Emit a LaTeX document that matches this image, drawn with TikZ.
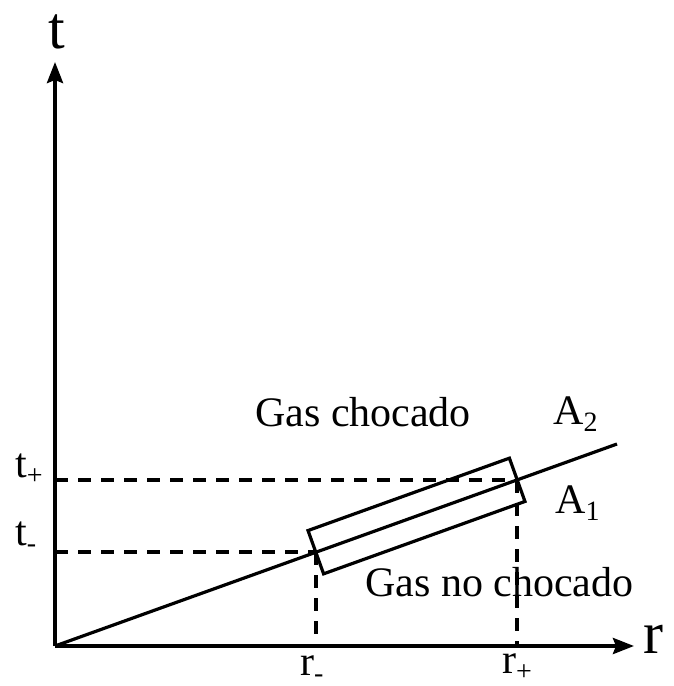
\documentclass[tikz,border=0pt]{standalone}
\usepackage{fontspec}
\setmainfont{Liberation Serif}
\usetikzlibrary{arrows.meta,calc}
\newcommand\lsub[1]{\raisebox{-7.5pt}{\fontsize{28}{28}\selectfont #1}}
\tikzset{
  axisline/.style={line width=3.8pt, -{Stealth[length=21pt,width=16pt,inset=3pt]}},
  mainline/.style={line width=3.2pt},
  guide/.style={line width=3.2pt, dash pattern=on 13pt off 10pt},
  lbl/.style={inner sep=0pt, anchor=base west, font=\fontsize{42}{46}\selectfont},
  biglbl/.style={inner sep=0pt, font=\fontsize{60}{64}\selectfont},
}
\begin{document}
\begin{tikzpicture}[x=1pt,y=-1pt]
\useasboundingbox (0,0) rectangle (673,686);
\coordinate (O) at (55,646);
\coordinate (E) at (617,444);
\coordinate (Ttip) at (55,62);
\coordinate (Rtip) at (634,646);
\coordinate (Pm) at (316,552);
\coordinate (Pp) at (517,480);
% dashed guides
\draw[guide] (O |- Pm) -- (Pm);
\draw[guide] (O |- Pp) -- (Pp);
\draw[guide] (Pm) -- (Pm |- O);
\draw[guide] (Pp) -- (Pp |- O);
% axes
\draw[axisline] (O) -- (Ttip);
\draw[axisline] (O) -- (Rtip);
% shock line
\draw[mainline] (O) -- (E);
% box
\node[draw, line width=3.2pt, rotate=19.77, minimum width=214pt, minimum height=46pt, inner sep=0pt] (box) at ($(Pm)!0.5!(Pp)$) {};
% labels
\node[biglbl, anchor=base] (tl) at (57,48) {t};
\node[biglbl, anchor=base west] (rl) at (643,653) {r};
\node[lbl] (tp) at (15,477) {t\lsub{+}};
\node[lbl] (tm) at (15,545) {t\lsub{-}};
\node[lbl] (rm) at (300,675) {r\lsub{-}};
\node[lbl] (rp) at (502,673) {r\lsub{+}};
\node[lbl] (gc) at (255,426) {Gas chocado};
\node[lbl] (gnc) at (365,596) {Gas no chocado};
\node[lbl] (a2) at (553,424) {A\lsub{2}};
\node[lbl] (a1) at (555,513) {A\lsub{1}};
\end{tikzpicture}
\end{document}
